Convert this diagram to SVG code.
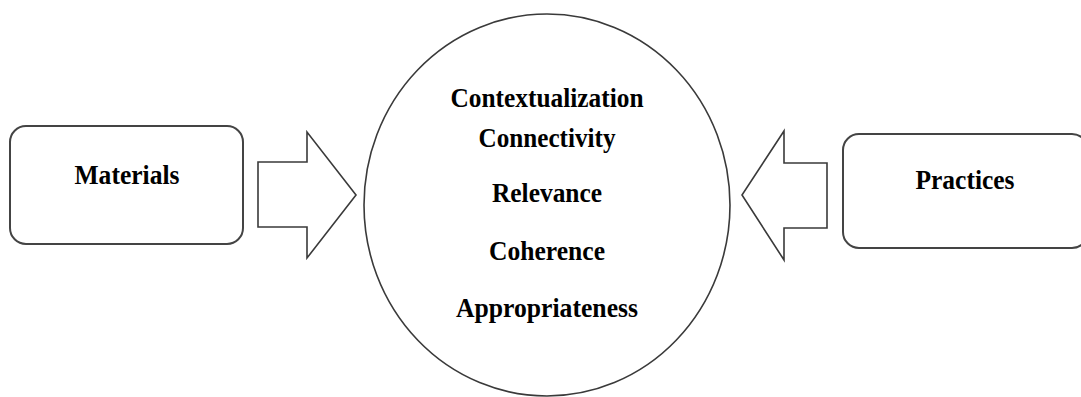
<svg xmlns="http://www.w3.org/2000/svg" width="1081" height="397" viewBox="0 0 1081 397">
<style>
.shape{fill:#ffffff;stroke:#3a3a3a;stroke-width:1.6}
.box{fill:#ffffff;stroke:#444444;stroke-width:2}
.lbl{font-family:"Liberation Serif","Times New Roman",serif;font-weight:bold;font-size:28px;fill:#000000;text-anchor:middle}
</style>
<rect x="0" y="0" width="1081" height="397" fill="#ffffff"/>
<g id="materials">
<rect class="box" x="10" y="126" width="233" height="118" rx="16" ry="16"/>
<text class="lbl" x="127" y="184" textLength="105" lengthAdjust="spacingAndGlyphs">Materials</text>
</g>
<g id="practices">
<rect class="box" x="843" y="134" width="245" height="114" rx="16" ry="16"/>
<text class="lbl" x="965" y="189" textLength="99" lengthAdjust="spacingAndGlyphs">Practices</text>
</g>
<g id="center">
<ellipse class="shape" cx="547" cy="205" rx="183" ry="191"/>
<text class="lbl" x="547" y="107" textLength="193" lengthAdjust="spacingAndGlyphs">Contextualization</text>
<text class="lbl" x="547" y="147" textLength="137" lengthAdjust="spacingAndGlyphs">Connectivity</text>
<text class="lbl" x="547" y="202" textLength="110" lengthAdjust="spacingAndGlyphs">Relevance</text>
<text class="lbl" x="547" y="260" textLength="116" lengthAdjust="spacingAndGlyphs">Coherence</text>
<text class="lbl" x="547" y="317" textLength="182" lengthAdjust="spacingAndGlyphs">Appropriateness</text>
</g>
<g id="connectors">
<polygon class="shape" points="258,162 307,162 307,132 356,195 307,258 307,227 258,227"/>
<polygon class="shape" points="827,163 784,163 784,131 742,195 784,260 784,228 827,228"/>
</g>
</svg>
